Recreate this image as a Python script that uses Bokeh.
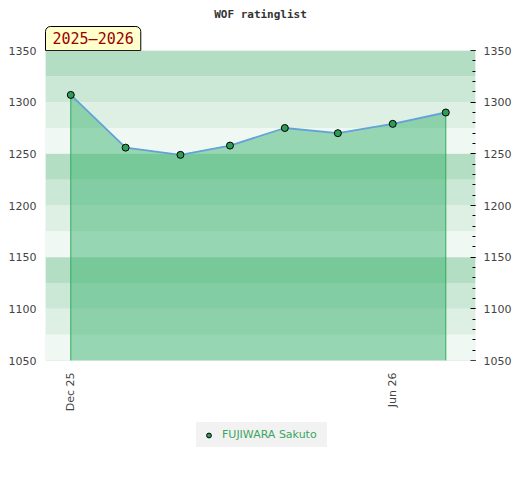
import math
from datetime import datetime, timedelta
from bokeh.plotting import figure
from bokeh.models import (Range1d, LinearAxis, SingleIntervalTicker, FixedTicker,
                          BoxAnnotation, Title, Legend, LegendItem)
from bokeh.core.properties import value
from bokeh.embed import file_html
from bokeh.resources import INLINE

chart_title = "WOF ratinglist"
season = "2025–2026"
player = "FUJIWARA Sakuto"
dates = [datetime(2025, 12, 1), datetime(2026, 1, 1), datetime(2026, 2, 1), datetime(2026, 3, 1),
         datetime(2026, 4, 1), datetime(2026, 5, 1), datetime(2026, 6, 1), datetime(2026, 7, 1)]
ratings = [1307, 1256, 1249, 1258, 1275, 1270, 1279, 1290]
tick_dates = [datetime(2025, 12, 1), datetime(2026, 6, 1)]
tick_labels = ["Dec 25", "Jun 26"]
y_min, y_max = 1050, 1350
band_step = 25
band_colors = ["#f0f8f3", "#deefe4", "#cbe7d6", "#b3dec3"]

# layout: plot area 430x310 px, plus 100 px of room below it (inside the frame)
PLOT_H = 310
EXTRA_H = 100
pad_units = EXTRA_H * (y_max - y_min) / PLOT_H

p = figure(frame_width=430, frame_height=PLOT_H + EXTRA_H, x_axis_type="datetime",
           output_backend="svg", toolbar_location=None, title=None,
           x_range=Range1d(dates[0] - timedelta(days=14.3), dates[-1] + timedelta(days=16.8)),
           y_range=Range1d(y_min - pad_units, y_max),
           min_border_left=45, min_border_right=41, min_border_top=50, min_border_bottom=12)
p.background_fill_color = "white"
p.border_fill_color = "white"
p.outline_line_color = None

# horizontal bands
n_bands = (y_max - y_min) // band_step
for i in range(n_bands):
    b = y_min + i * band_step
    p.add_layout(BoxAnnotation(bottom=b, top=b + band_step, fill_color=band_colors[i % 4],
                               fill_alpha=1.0, line_color=None, level="underlay"))

p.xgrid.visible = False
p.ygrid.ticker = FixedTicker(ticks=[1150, 1250])
p.ygrid.grid_line_color = "#d6dcd8"
p.ygrid.grid_line_width = 1
p.ygrid.level = "underlay"

# area + lines + markers
p.varea(x=dates, y1=[y_min] * len(dates), y2=ratings, fill_color="#3cb371", fill_alpha=0.5)
p.segment(x0=[dates[0], dates[-1]], y0=[y_min, y_min], x1=[dates[0], dates[-1]],
          y1=[ratings[0], ratings[-1]], line_color="#2eaa5c", line_width=1)
p.line(dates, ratings, line_color="#62a2d8", line_width=1.8)
r = p.scatter(dates, ratings, size=7, fill_color="#2e9e57", line_color="black", line_width=1)

# plot-area border
p.add_layout(BoxAnnotation(bottom=y_min, top=y_max, fill_color=None, fill_alpha=0,
                           line_color="#d0d0d0", line_width=1, level="overlay"))

# x tick labels (vertical)
p.xaxis.visible = False
p.text(x=tick_dates, y=[y_min] * len(tick_dates), text=tick_labels, angle=math.pi / 2,
       text_align="right", text_baseline="middle", y_offset=12,
       text_font=value("DejaVu Sans"), text_font_size="11px", text_color="#444444")

# left y axis
ya = p.yaxis[0]
ya.ticker = SingleIntervalTicker(interval=50, num_minor_ticks=5)
ya.bounds = (y_min, y_max)
ya.major_tick_out = 0
ya.major_tick_in = 0
ya.minor_tick_out = 0
ya.minor_tick_in = 0
ya.axis_line_color = None
ya.major_label_standoff = 9
ya.major_label_text_font = "DejaVu Sans"
ya.major_label_text_font_size = "11px"
ya.major_label_text_color = "#444444"

# right y axis
ra = LinearAxis(ticker=SingleIntervalTicker(interval=50, num_minor_ticks=5), bounds=(y_min, y_max))
ra.major_tick_out = 0
ra.major_tick_in = 5
ra.minor_tick_out = 0
ra.minor_tick_in = 3
ra.major_tick_line_color = "black"
ra.minor_tick_line_color = "black"
ra.axis_line_color = None
ra.major_label_standoff = 8
ra.major_label_text_font = "DejaVu Sans"
ra.major_label_text_font_size = "11px"
ra.major_label_text_color = "#444444"
p.add_layout(ra, "right")

# season tag (closest to frame) and chart title (above it)
p.add_layout(Title(text=season, align="left", text_font="DejaVu Sans Mono",
                   text_font_size="15px", text_font_style="normal", text_color="#990000",
                   background_fill_color="#ffffcc", border_line_color="black",
                   border_line_width=1, standoff=0, offset=0,
                   padding=dict(left=7, right=7, top=3, bottom=3),
                   border_radius=dict(top_left=5, top_right=5, bottom_right=0, bottom_left=0)),
             "above")
p.add_layout(Title(text=chart_title, align="center", text_font="DejaVu Sans Mono",
                   text_font_style="bold", text_font_size="11px", text_color="#333333",
                   standoff=8), "above")

legend = Legend(items=[LegendItem(label=player, renderers=[r])], location=(151, 13),
                orientation="horizontal",
                background_fill_color="#f2f2f2", background_fill_alpha=1.0,
                border_line_color="#f2f2f2", border_line_width=1,
                padding=5, margin=0, glyph_width=13, glyph_height=12,
                label_standoff=7, label_width=99, label_height=12,
                label_text_font="DejaVu Sans", label_text_font_size="11px",
                label_text_color="#3aa65f")
p.add_layout(legend)

open("out.html", "w").write(file_html(p, INLINE))
